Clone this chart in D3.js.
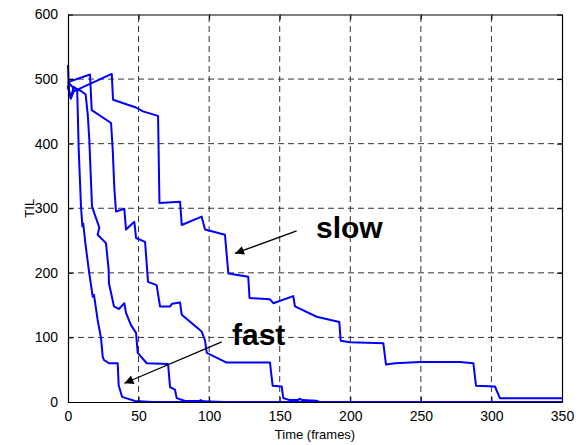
<!DOCTYPE html>
<html lang="en">
<head>
  <meta charset="UTF-8">
  <title>TIL over time</title>
  <script src="https://d3js.org/d3.v7.min.js"></script>
  <style>
    body { margin: 0; background: #fff; }
    svg { display: block; font-family: "Liberation Sans", Arial, sans-serif; }
  </style>
</head>
<body>
  <div id="chart"></div>

  <script>
    const width = 584, height = 445;
    const margin = {top: 14.5, right: 22, bottom: 43, left: 68};

    // runs, [frame, TIL]
    const run1 = [[0,522],[0.6,482],[2,470],[4,488],[6.5,484],[7.6,390],[9.2,303],[10.2,272],[10.8,276],
      [12.3,246],[14.7,205],[17.5,163],[18.4,166],[21,127],[23.4,99],[24.6,70],[25.5,65],[29,60],
      [35.2,60],[35.9,26],[38.3,8],[41,6],[47.5,1.5],[60,0],[350,0]];
    const run2 = [[0,495],[4,486],[9,482],[12.5,476],[14,445],[15.1,406],[17,303],[19,290],[22.2,270],
      [21,259],[26.9,246],[28.8,205],[29,184],[32.6,148],[36.1,144],[39.9,153],[41.1,138],[44.6,119],
      [48.2,107],[49.4,76],[55.8,60],[70.9,59],[72.3,23],[75.8,19],[77,6],[83,1.5],[93,1.5],[94,3],
      [96,1],[110,0],[350,0]];
    const run3 = [[0,484],[1,496],[15.6,507],[16.8,452],[30.5,432],[31.7,390],[32.8,332],[34,295],
      [39.9,299],[41.1,267],[47,279],[48.2,254],[54.6,248],[56.7,186],[62.8,181],[65.2,148],[72.3,148],
      [73.7,152],[79.4,154],[80.6,135],[94.7,109],[97,96],[98.3,76],[112.4,61],[143.1,61],[145,25],
      [151.4,24],[152.5,6],[157,3],[163,3],[164,5],[166,3],[176,2],[178,0],[350,0]];
    const run4 = [[0,490],[2,470],[4,481],[31,508],[31.9,468],[48.2,456],[53.1,450],[63.8,443],[64.8,308],
      [79.4,310],[80.6,274],[94.7,287],[97.1,267],[111.2,259],[113.6,199],[127.7,194],[128.6,161],
      [143.1,159],[145.5,153],[159.6,164],[160.8,148],[176.2,132],[192.2,124],[193.2,95],[199.8,92.5],
      [223.4,91],[225.3,58],[231.7,60],[249.4,62],[277.7,62],[287.2,60],[289.1,25],[302.5,24],[306,6],
      [350,6]];
    const runs = [run1, run2, run3, run4];

    const xTicks = [0, 50, 100, 150, 200, 250, 300, 350];
    const yTicks = [0, 100, 200, 300, 400, 500, 600];

    // annotations: label position and arrow tail/head in data units
    const notes = [
      {text: "slow", at: [175.7, 254], from: [162, 265], to: [118.3, 230]},
      {text: "fast", at: [116.2, 88], from: [108.9, 93], to: [40, 29]}
    ];

    const svg = d3.select("#chart").append("svg")
        .attr("width", width)
        .attr("height", height);

    svg.append("rect").attr("width", width).attr("height", height).attr("fill", "#fff");

    const x = d3.scaleLinear().domain([0, 350]).range([margin.left, width - margin.right]);
    const y = d3.scaleLinear().domain([0, 600]).range([height - margin.bottom, margin.top]);

    // dashed grid
    svg.append("g").selectAll("line")
      .data(xTicks.slice(1, -1))
      .join("line")
      .attr("x1", d => x(d)).attr("x2", d => x(d))
      .attr("y1", y(0)).attr("y2", y(600))
      .attr("stroke", "#333").attr("stroke-dasharray", "6,4");
    svg.append("g").selectAll("line")
      .data(yTicks.slice(1, -1))
      .join("line")
      .attr("x1", x(0)).attr("x2", x(350))
      .attr("y1", d => y(d)).attr("y2", d => y(d))
      .attr("stroke", "#333").attr("stroke-dasharray", "6,4");

    // runs
    const line = d3.line().x(d => x(d[0])).y(d => y(d[1]));
    svg.append("g").selectAll("path")
      .data(runs)
      .join("path")
      .attr("d", line)
      .attr("fill", "none")
      .attr("stroke", "#0000ff")
      .attr("stroke-width", 2)
      .attr("stroke-linejoin", "round");

    // axes, ticks inside like matlab
    const axisB = svg.append("g").attr("transform", `translate(0,${y(0)})`)
      .call(d3.axisBottom(x).tickValues(xTicks).tickSizeInner(-5).tickSizeOuter(0).tickPadding(9));
    const axisT = svg.append("g").attr("transform", `translate(0,${y(600)})`)
      .call(d3.axisTop(x).tickValues(xTicks).tickSizeInner(-5).tickSizeOuter(0).tickFormat(""));
    const axisL = svg.append("g").attr("transform", `translate(${x(0)},0)`)
      .call(d3.axisLeft(y).tickValues(yTicks).tickSizeInner(-5).tickSizeOuter(0).tickPadding(10));
    const axisR = svg.append("g").attr("transform", `translate(${x(350)},0)`)
      .call(d3.axisRight(y).tickValues(yTicks).tickSizeInner(-5).tickSizeOuter(0).tickFormat(""));

    [axisB, axisT, axisL, axisR].forEach(g => {
      g.select(".domain").attr("stroke", "#000").attr("stroke-width", 1.2);
      g.selectAll(".tick line").attr("stroke", "#000");
      g.selectAll("text").attr("font-size", 14).attr("fill", "#000")
        .attr("font-family", "'Liberation Sans', Arial, sans-serif");
    });

    // axis titles
    svg.append("text")
      .attr("x", (x(0) + x(350)) / 2)
      .attr("y", 439)
      .attr("text-anchor", "middle")
      .attr("font-size", 13)
      .text("Time (frames)");
    svg.append("text")
      .attr("transform", `translate(34,${y(300)}) rotate(-90)`)
      .attr("text-anchor", "middle")
      .attr("font-size", 13)
      .text("TIL");

    // arrows + labels
    const defs = svg.append("defs");
    defs.append("marker")
      .attr("id", "head")
      .attr("viewBox", "0 0 10 10")
      .attr("refX", 10).attr("refY", 5)
      .attr("markerWidth", 12).attr("markerHeight", 9)
      .attr("markerUnits", "userSpaceOnUse")
      .attr("orient", "auto")
      .append("path")
      .attr("d", "M0,0L10,5L0,10Z")
      .attr("fill", "#000");

    svg.append("g").selectAll("line")
      .data(notes)
      .join("line")
      .attr("x1", d => x(d.from[0])).attr("y1", d => y(d.from[1]))
      .attr("x2", d => x(d.to[0])).attr("y2", d => y(d.to[1]))
      .attr("stroke", "#000").attr("stroke-width", 1.3)
      .attr("marker-end", "url(#head)");

    svg.append("g").selectAll("text")
      .data(notes)
      .join("text")
      .attr("x", d => x(d.at[0])).attr("y", d => y(d.at[1]))
      .attr("font-size", 30)
      .attr("font-weight", "bold")
      .text(d => d.text);
  </script>
</body>
</html>
